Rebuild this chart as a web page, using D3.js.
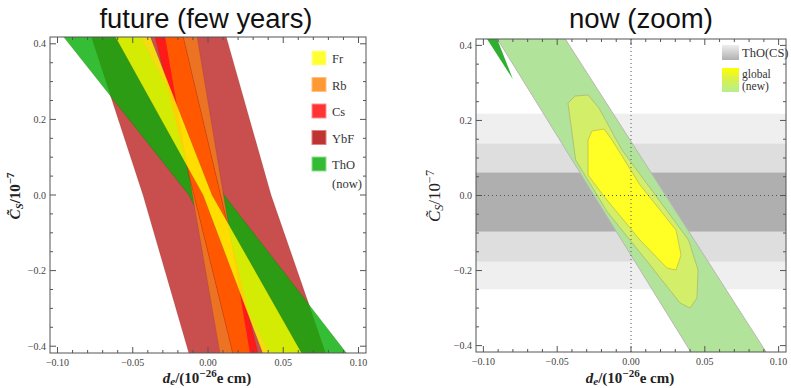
<!DOCTYPE html>
<html>
<head>
<meta charset="utf-8">
<script src="https://cdn.jsdelivr.net/npm/d3@7"></script>
<style>
  body { margin: 0; background: #fff; }
  svg text { font-family: "Liberation Serif", "DejaVu Serif", serif; }
</style>
</head>
<body>
<div id="chart"></div>
<script>
// ---------------------------------------------------------------------------
// Data
// ---------------------------------------------------------------------------
const xTicks = [-0.10, -0.05, 0.00, 0.05, 0.10];
const yTicks = [-0.4, -0.2, 0.0, 0.2, 0.4];
const xTickLabels = ['\u22120.10', '\u22120.05', '0.00', '0.05', '0.10'];
const yTickLabels = ['\u22120.4', '\u22120.2', '0.0', '0.2', '0.4'];

// left panel: each band is given by its left/right d_e edge at C_S = 0.42, 0, -0.42
const bandEdgeC = [0.42, 0, -0.42];
const ybfEdges = [[-0.0777, 0.0120], [-0.0432, 0.0419], [-0.0126, 0.0784]];
const thoEdges = [[-0.0963, -0.0452], [-0.0126, 0.0106], [0.0412, 0.0924]];
const rbEdges  = [[-0.0286, -0.0073], [-0.0103, 0.0103], [0.0080, 0.0279]];
const csEdges  = [[-0.0352, -0.0166], [-0.0093, 0.0083], [0.0166, 0.0332]];
const frEdges  = [[-0.0618, -0.0385], [-0.0033, 0.0027], [0.0365, 0.0625]];
const legendNames = ['Fr', 'Rb', 'Cs', 'YbF', 'ThO'];

// right panel: ThO(CS) bands in C_S (3, 2, 1 sigma)
const thoCsBands = [[-0.250, 0.218], [-0.176, 0.138], [-0.096, 0.061]];
// global fit regions, outline points [d_e, C_S]
const thoSliver = [[-0.098, 0.42], [-0.091, 0.42], [-0.080, 0.31]];
const global3 = [[-0.091, 0.42], [-0.045, 0.42], [0.092, -0.42], [0.041, -0.42]];
const global2 = [[-0.0427, 0.2465], [-0.0379, 0.2651], [-0.0291, 0.2678], [-0.0217, 0.2331],
                 [-0.0061, 0.1212], [0.0390, -0.1186], [0.0454, -0.1985], [0.0447, -0.2731],
                 [0.0400, -0.2998], [0.0332, -0.2864], [0.0129, -0.1852], [-0.0160, -0.0439],
                 [-0.0375, 0.0946]];
const global1 = [[-0.0291, 0.1479], [-0.0264, 0.1719], [-0.0183, 0.1772], [-0.0129, 0.1479],
                 [0.0061, 0.0280], [0.0305, -0.0919], [0.0339, -0.1585], [0.0305, -0.1985],
                 [0.0244, -0.1932], [0.0061, -0.1186], [-0.0190, 0.0013], [-0.0291, 0.0546]];

// ---------------------------------------------------------------------------
// Setup
// ---------------------------------------------------------------------------
const W = 791, H = 388;
const svg = d3.select('#chart').append('svg')
    .attr('width', W).attr('height', H);
const defs = svg.append('defs');

const leftBox = { x0: 50, x1: 366, y0: 37, y1: 353 };
const rightBox = { x0: 476, x1: 786, y0: 39, y1: 352 };

const xL = d3.scaleLinear().domain([-0.105, 0.105]).range([leftBox.x0, leftBox.x1]);
const yL = d3.scaleLinear().domain([-0.418, 0.418]).range([leftBox.y1, leftBox.y0]);
const xR = d3.scaleLinear().domain([-0.105, 0.105]).range([rightBox.x0, rightBox.x1]);
const yR = d3.scaleLinear().domain([-0.417, 0.417]).range([rightBox.y1, rightBox.y0]);

// titles
svg.append('text').attr('x', 206).attr('y', 28)
    .attr('text-anchor', 'middle')
    .style('font-family', '"Liberation Sans", Arial, sans-serif')
    .style('font-size', '27px').attr('fill', '#111')
    .attr('textLength', 213).attr('lengthAdjust', 'spacingAndGlyphs')
    .text('future (few years)');
svg.append('text').attr('x', 641).attr('y', 28)
    .attr('text-anchor', 'middle')
    .style('font-family', '"Liberation Sans", Arial, sans-serif')
    .style('font-size', '27px').attr('fill', '#111')
    .attr('textLength', 144).attr('lengthAdjust', 'spacingAndGlyphs')
    .text('now (zoom)');

// clip rects for the plot areas
[['clip-left', leftBox], ['clip-right', rightBox]].forEach(([id, b]) => {
    defs.append('clipPath').attr('id', id).append('rect')
        .attr('x', b.x0).attr('y', b.y0)
        .attr('width', b.x1 - b.x0).attr('height', b.y1 - b.y0);
});

// ---------------------------------------------------------------------------
// Left panel: bands
// ---------------------------------------------------------------------------
function bandPoints(edges) {
    const left = edges.map((e, i) => [e[0], bandEdgeC[i]]);
    const right = edges.map((e, i) => [e[1], bandEdgeC[i]]);
    return left.concat(right.reverse());
}
const lineL = d3.line().x(d => xL(d[0])).y(d => yL(d[1]));
const bandPath = edges => lineL(bandPoints(edges)) + 'Z';

const bands = { YbF: ybfEdges, ThO: thoEdges, Rb: rbEdges, Cs: csEdges, Fr: frEdges };
Object.entries(bands).forEach(([name, edges]) => {
    defs.append('clipPath').attr('id', `band-${name}`)
        .append('path').attr('d', bandPath(edges));
});

const gL = svg.append('g').attr('clip-path', 'url(#clip-left)');
// YbF, ThO, Rb and Cs are opaque; Fr is laid over them half see-through
const layers = [
    { band: 'YbF', fill: '#c94f4f' },
    { band: 'ThO', fill: '#35bd35' },
    { band: 'ThO', clip: 'YbF', fill: '#2b9c13' },
    { band: 'Rb', fill: '#ec7324' },
    { band: 'Cs', fill: '#ff1a1a' },
    { band: 'Cs', clip: 'Rb', fill: '#ff5800' },
    { band: 'Fr', fill: '#ffff00', opacity: 0.8 }
];
layers.forEach(l => {
    const p = gL.append('path')
        .attr('d', bandPath(bands[l.band]))
        .attr('fill', l.fill)
        .attr('fill-opacity', l.opacity || 1)
        .attr('stroke', 'rgba(80,40,20,0.25)')
        .attr('stroke-width', 0.6);
    if (l.clip) p.attr('clip-path', `url(#band-${l.clip})`);
});

// ---------------------------------------------------------------------------
// Right panel: regions
// ---------------------------------------------------------------------------
const lineR = d3.line().x(d => xR(d[0])).y(d => yR(d[1])).curve(d3.curveLinearClosed);
const gR = svg.append('g').attr('clip-path', 'url(#clip-right)');
const grays = ['#efefef', '#dedede', '#afafaf'];
thoCsBands.forEach((b, i) => {
    gR.append('rect')
        .attr('x', rightBox.x0).attr('width', rightBox.x1 - rightBox.x0)
        .attr('y', yR(b[1])).attr('height', yR(b[0]) - yR(b[1]))
        .attr('fill', grays[i]);
});
gR.append('path').attr('d', lineR(thoSliver)).attr('fill', '#2fae2f');
gR.append('path').attr('d', lineR(global3)).attr('fill', '#b1e49a')
    .attr('stroke', '#b8b8b0').attr('stroke-width', 1);
gR.append('path').attr('d', lineR(global2)).attr('fill', '#d3ee68')
    .attr('stroke', '#a8b070').attr('stroke-width', 0.7);
gR.append('path').attr('d', lineR(global1)).attr('fill', '#ffff26')
    .attr('stroke', '#b8b850').attr('stroke-width', 0.7);
// dotted zero lines
gR.append('line').attr('x1', rightBox.x0).attr('x2', rightBox.x1)
    .attr('y1', yR(0)).attr('y2', yR(0))
    .attr('stroke', '#555').attr('stroke-dasharray', '1,3');
gR.append('line').attr('x1', xR(0)).attr('x2', xR(0))
    .attr('y1', rightBox.y0).attr('y2', rightBox.y1)
    .attr('stroke', '#555').attr('stroke-dasharray', '1,3');

// ---------------------------------------------------------------------------
// Frames, ticks, labels
// ---------------------------------------------------------------------------
function drawFrame(box, x, y) {
    const g = svg.append('g');
    g.append('rect')
        .attr('x', box.x0).attr('y', box.y0)
        .attr('width', box.x1 - box.x0).attr('height', box.y1 - box.y0)
        .attr('fill', 'none').attr('stroke', '#555').attr('stroke-width', 1);
    const xMinor = d3.range(-10, 11).map(v => v / 100);
    const yMinor = d3.range(-8, 9).map(v => v / 20);
    xMinor.forEach(v => {
        const major = Math.abs(v * 100) % 5 < 1e-6;
        const len = major ? 6 : 3;
        g.append('line').attr('x1', x(v)).attr('x2', x(v))
            .attr('y1', box.y1).attr('y2', box.y1 - len).attr('stroke', '#555');
        g.append('line').attr('x1', x(v)).attr('x2', x(v))
            .attr('y1', box.y0).attr('y2', box.y0 + len).attr('stroke', '#555');
    });
    yMinor.forEach(v => {
        const major = Math.abs(v * 20) % 4 < 1e-6;
        const len = major ? 6 : 3;
        g.append('line').attr('y1', y(v)).attr('y2', y(v))
            .attr('x1', box.x0).attr('x2', box.x0 + len).attr('stroke', '#555');
        g.append('line').attr('y1', y(v)).attr('y2', y(v))
            .attr('x1', box.x1).attr('x2', box.x1 - len).attr('stroke', '#555');
    });
    xTicks.forEach((v, i) => {
        g.append('text').attr('x', x(v)).attr('y', box.y1 + 13)
            .attr('text-anchor', 'middle').style('font-size', '10px')
            .attr('fill', '#444').text(xTickLabels[i]);
    });
    yTicks.forEach((v, i) => {
        g.append('text').attr('x', box.x0 - 4).attr('y', y(v) + 3.5)
            .attr('text-anchor', 'end').style('font-size', '10px')
            .attr('fill', '#444').text(yTickLabels[i]);
    });
}
drawFrame(leftBox, xL, yL);
drawFrame(rightBox, xR, yR);

function yLabel(cx, cy, bold, size) {
    const t = svg.append('text')
        .attr('transform', `translate(${cx},${cy}) rotate(-90)`)
        .attr('text-anchor', 'middle')
        .style('font-size', size + 'px')
        .style('font-weight', bold ? 'bold' : 'normal')
        .attr('fill', '#222');
    t.append('tspan').style('font-style', 'italic').text('C\u0303');
    t.append('tspan').attr('dy', 3).style('font-size', (size * 0.72) + 'px')
        .style('font-style', 'italic').text('S');
    t.append('tspan').attr('dy', -3).text('/10');
    t.append('tspan').attr('dy', -6).style('font-size', (size * 0.72) + 'px').text('\u22127');
}
yLabel(20, 196, true, 15);
yLabel(440, 196, false, 17);

function xLabel(cx, cy) {
    const t = svg.append('text').attr('x', cx).attr('y', cy)
        .attr('text-anchor', 'middle')
        .style('font-size', '15px').style('font-weight', 'bold').attr('fill', '#222');
    t.append('tspan').style('font-style', 'italic').text('d');
    t.append('tspan').attr('dy', 2).style('font-size', '11px').style('font-style', 'italic').text('e');
    t.append('tspan').attr('dy', -2).text('/(10');
    t.append('tspan').attr('dy', -6).style('font-size', '11px').text('\u221226');
    t.append('tspan').attr('dy', 6).text('e cm)');
}
xLabel(207, 383);
xLabel(630, 383);

// ---------------------------------------------------------------------------
// Legends
// ---------------------------------------------------------------------------
const legendColors = ['#ffff33', '#ff9933', '#ff3333', '#c03333', '#33bb33'];
const legendBorders = ['#ffff99', '#ffc080', '#ff9090', '#e08080', '#90dd90'];
const legL = svg.append('g').attr('transform', 'translate(312, 51)');
legendNames.forEach((name, i) => {
    const row = legL.append('g').attr('transform', `translate(0, ${i * 26.5})`);
    row.append('rect').attr('width', 14).attr('height', 14)
        .attr('fill', legendColors[i]).attr('stroke', legendBorders[i]).attr('stroke-width', 1);
    row.append('text').attr('x', 20).attr('y', 12)
        .style('font-size', '12.5px').attr('fill', '#333').text(name);
});
legL.append('text').attr('x', 20).attr('y', 137)
    .style('font-size', '12.5px').attr('fill', '#333').text('(now)');

const gGray = defs.append('linearGradient').attr('id', 'grad-gray')
    .attr('x1', 0).attr('y1', 0).attr('x2', 0).attr('y2', 1);
gGray.append('stop').attr('offset', 0).attr('stop-color', '#eeeeee');
gGray.append('stop').attr('offset', 1).attr('stop-color', '#b0b0b0');
const gGlob = defs.append('linearGradient').attr('id', 'grad-global')
    .attr('x1', 0).attr('y1', 0).attr('x2', 0).attr('y2', 1);
gGlob.append('stop').attr('offset', 0).attr('stop-color', '#ffff00');
gGlob.append('stop').attr('offset', 0.5).attr('stop-color', '#d8f050');
gGlob.append('stop').attr('offset', 1).attr('stop-color', '#b4f090');

svg.append('rect').attr('x', 722).attr('y', 45).attr('width', 17).attr('height', 15)
    .attr('fill', 'url(#grad-gray)');
svg.append('text').attr('x', 742).attr('y', 57).style('font-size', '12.5px')
    .attr('fill', '#333').text('ThO(CS)');
svg.append('rect').attr('x', 722).attr('y', 68).attr('width', 17).attr('height', 24)
    .attr('fill', 'url(#grad-global)');
svg.append('text').attr('x', 742).attr('y', 78).style('font-size', '11.5px')
    .attr('fill', '#333').text('global');
svg.append('text').attr('x', 742).attr('y', 90).style('font-size', '11.5px')
    .attr('fill', '#333').text('(new)');
</script>
</body>
</html>
